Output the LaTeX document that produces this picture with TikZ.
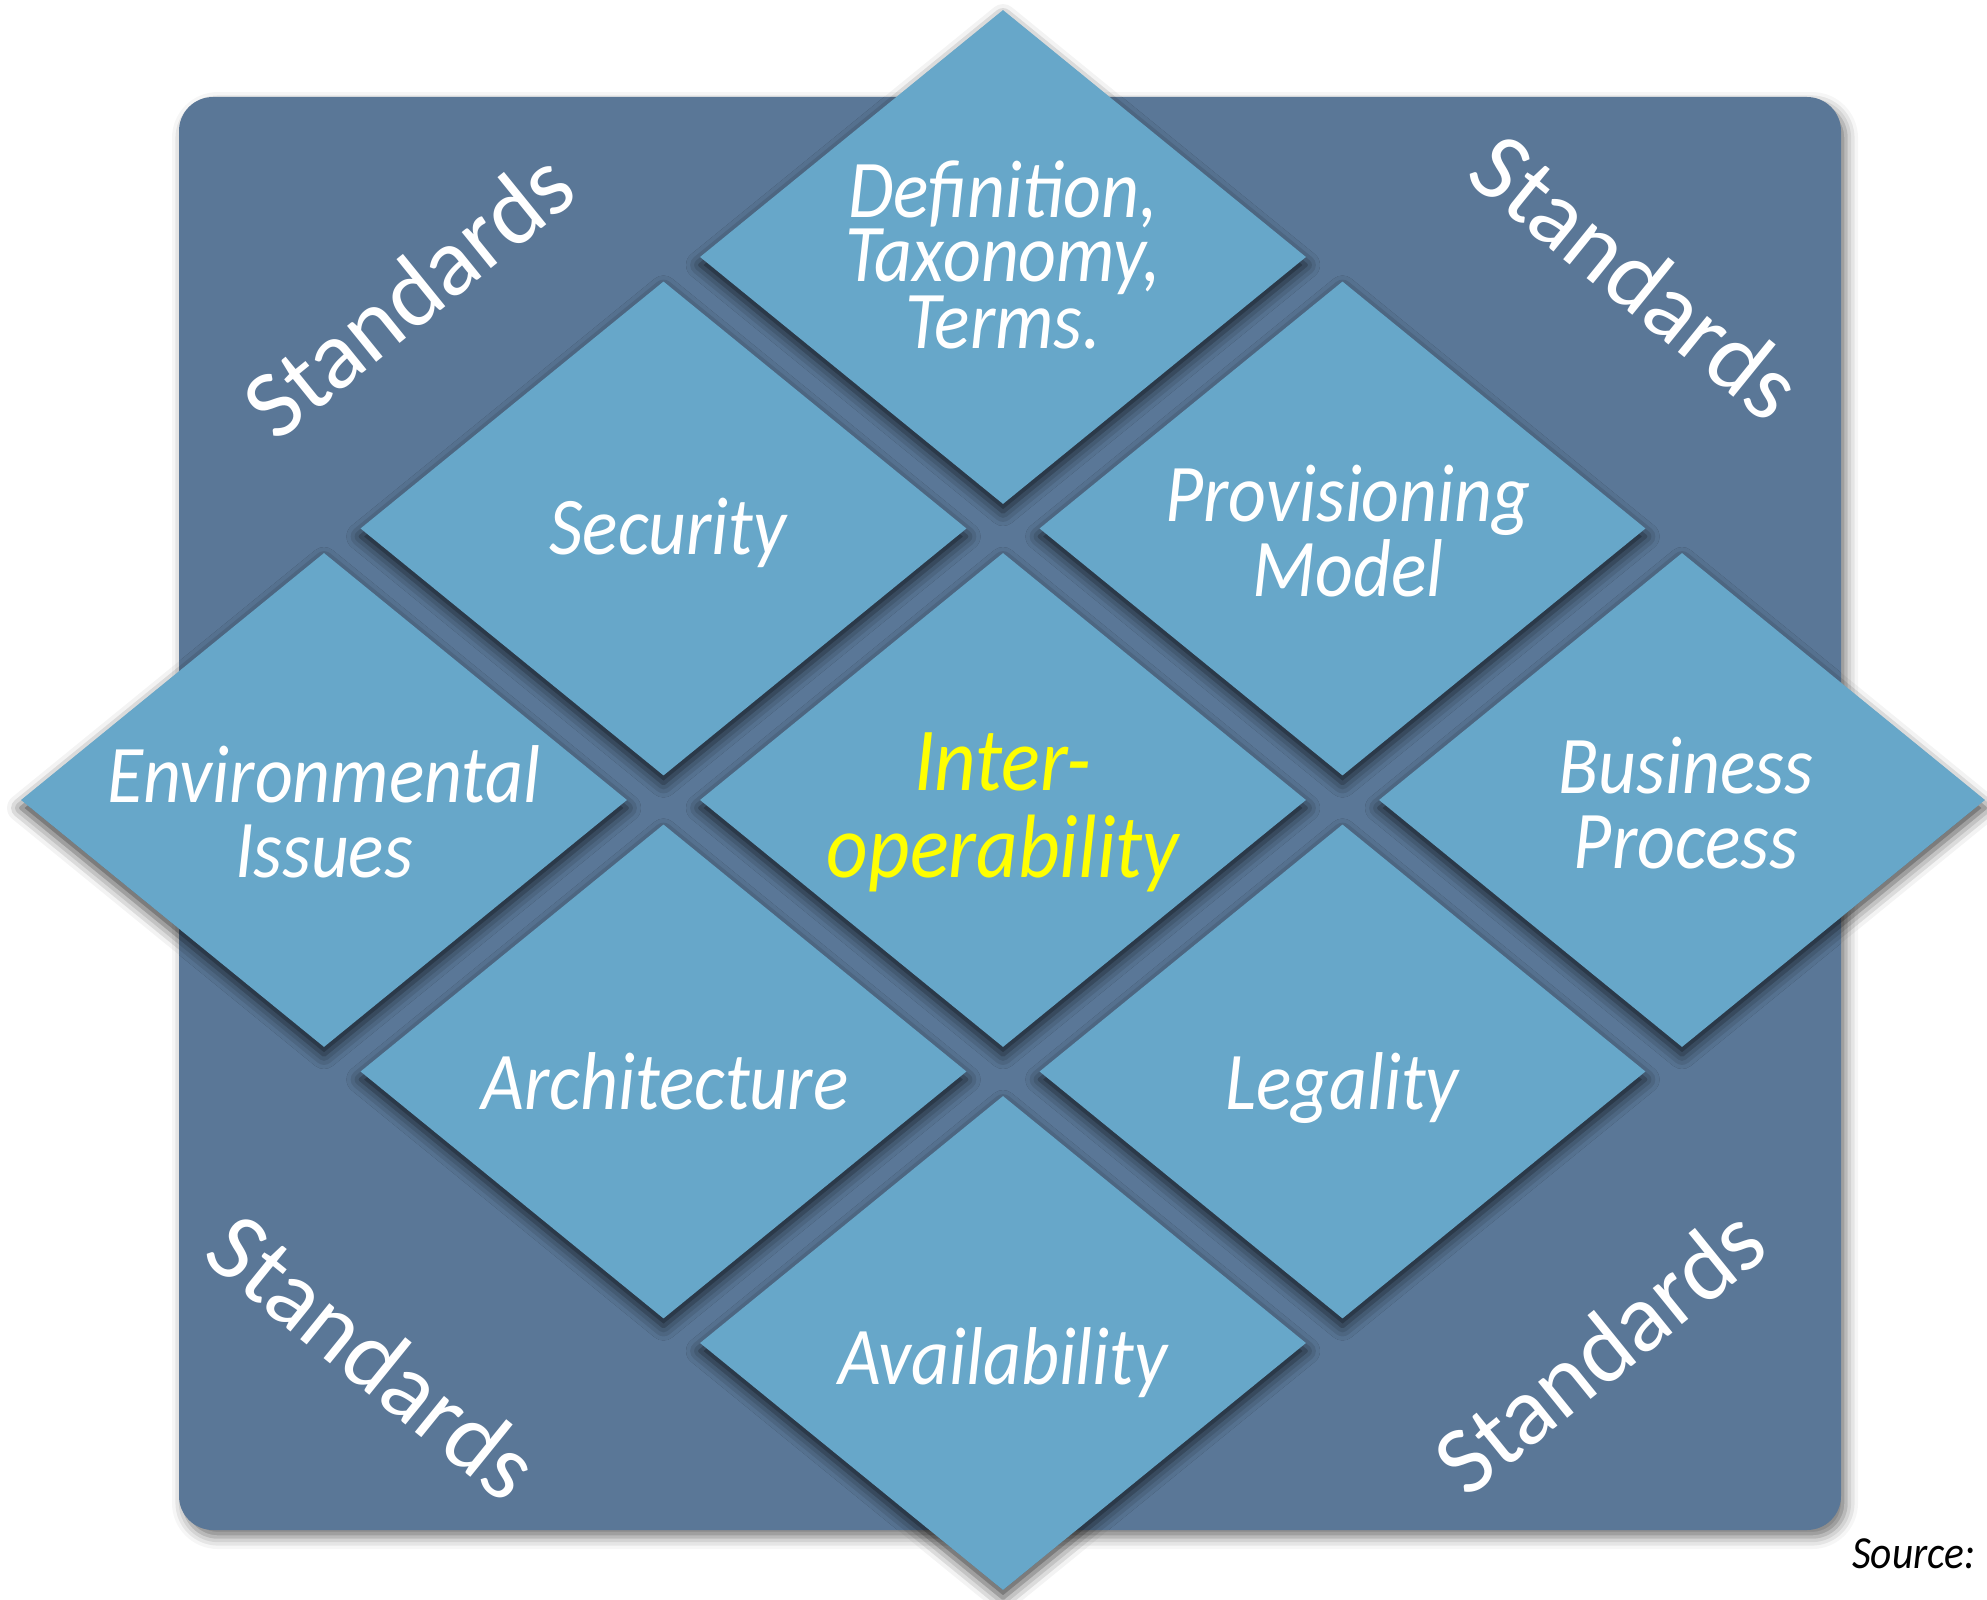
\documentclass[tikz,border=0pt]{standalone}
\usepackage{fontspec}
\setmainfont{Carlito}
\newfontfamily\tilefont{Carlito}[FakeStretch=0.9]
\usepackage{tikz}
\usetikzlibrary{shapes.geometric,shadows.blur}

\definecolor{board}{HTML}{5A7797}
\definecolor{tileblue}{HTML}{67A7C9}
\definecolor{hilite}{HTML}{FFFF00}

\tikzset{
  tile/.style={diamond, minimum width=606pt, minimum height=494pt, inner sep=0pt,
    fill=tileblue, blur shadow={shadow xshift=0pt, shadow yshift=-8pt,
    shadow blur radius=14pt, shadow opacity=75}},
  tiletext/.style={anchor=base, align=center, text=white,
    font=\tilefont\itshape\fontsize{82}{75}\selectfont},
  stdtext/.style={text=white, font=\fontsize{97}{97}\selectfont},
}

\begin{document}
\begin{tikzpicture}[x=1pt,y=-1pt]
\useasboundingbox (0,0) rectangle (1987,1600);

% board
\node[fill=board, rounded corners=34pt, minimum width=1662pt, minimum height=1433pt,
  blur shadow={shadow xshift=5pt, shadow yshift=-7pt, shadow blur radius=12pt, shadow opacity=55}]
  (board) at (1010,813.5) {};

\node[stdtext, rotate=39] (stdnw) at (408,294) {Standards};
\node[stdtext, rotate=-39] (stdne) at (1637,276) {Standards};
\node[stdtext, rotate=-39] (stdsw) at (374,1356) {Standards};
\node[stdtext, rotate=39] (stdse) at (1599,1350) {Standards};

% tiles, row by row
\foreach \n/\x/\y in {def/1003/257, sec/663.5/528.5, prov/1342.5/528.5,
    env/324/800, inter/1003/800, bus/1682/800,
    arch/663.5/1071.5, leg/1342.5/1071.5, avail/1003/1343}
  \node[tile] (\n) at (\x,\y) {};

% base anchor sits on the last line
\node[tiletext, font=\tilefont\itshape\fontsize{82}{63}\selectfont] (tdef) at (1003,348) {Definition,\\Taxonomy,\\Terms.};
\node[tiletext] (tsec) at (668,554) {Security};
\node[tiletext] (tprov) at (1348,596) {Provisioning\\Model};
\node[tiletext] (tenv) at (324,877) {Environmental\\Issues};
\node[tiletext, text=hilite, font=\tilefont\itshape\fontsize{90}{87}\selectfont] (tinter) at (1003,877) {Inter-\\operability};
\node[tiletext] (tbus) at (1686,868) {Business\\Process};
\node[tiletext] (tarch) at (665,1109) {Architecture};
\node[tiletext] (tleg) at (1342,1109) {Legality};
\node[tiletext] (tavail) at (1003,1384) {Availability};

\node[anchor=base east, font=\tilefont\itshape\fontsize{46}{46}\selectfont] (src) at (1979,1568) {Source:};
\end{tikzpicture}
\end{document}
